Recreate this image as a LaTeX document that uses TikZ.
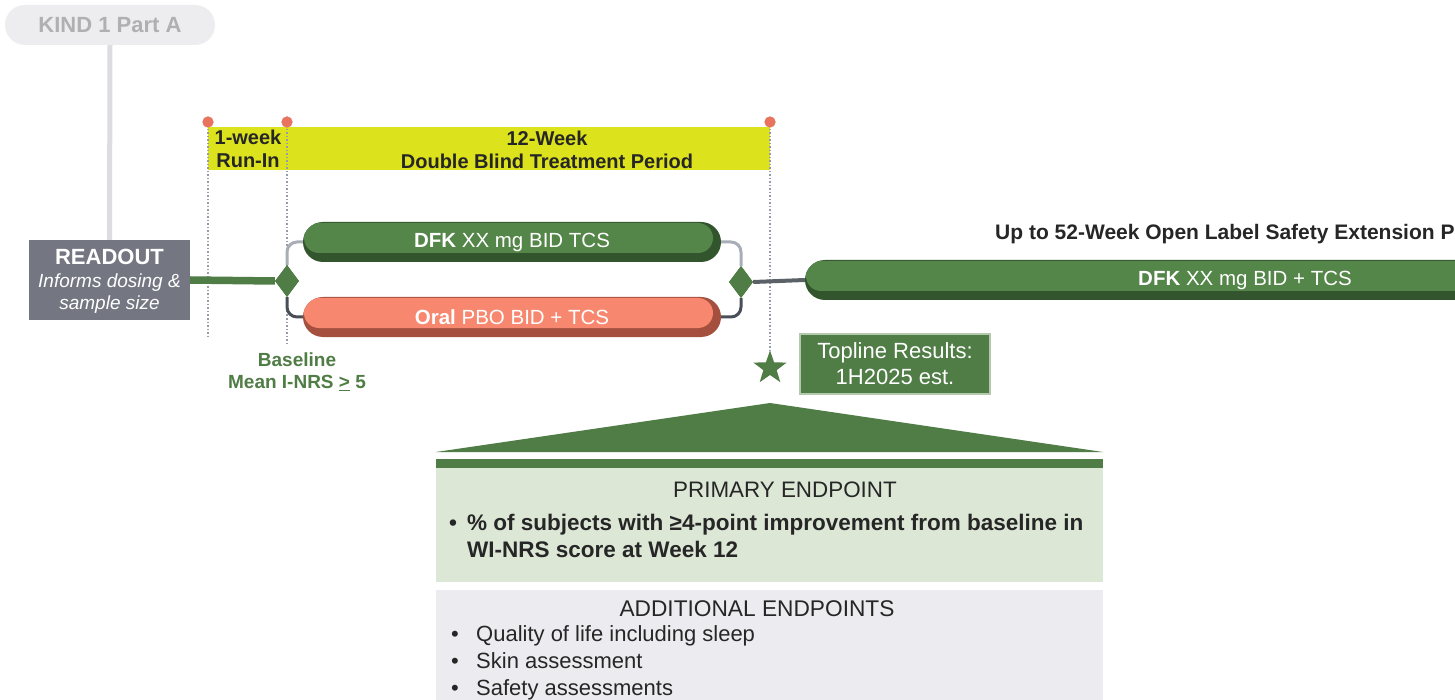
\documentclass[tikz,border=0pt]{standalone}
\usepackage{fontspec}
\setmainfont{Liberation Sans}
\usetikzlibrary{shapes.geometric}
\definecolor{gmain}{HTML}{548549}
\definecolor{gdark}{HTML}{32552E}
\definecolor{gflat}{HTML}{4F7D45}
\definecolor{smain}{HTML}{F7876F}
\definecolor{sdark}{HTML}{A5503E}
\definecolor{lgreen}{HTML}{DCE7D6}
\definecolor{lgray}{HTML}{ECECF0}
\definecolor{rdgray}{HTML}{747782}
\definecolor{yband}{HTML}{DCE21C}
\definecolor{pinc}{HTML}{E8735F}
\definecolor{dotc}{HTML}{959BAA}
\definecolor{kfill}{HTML}{EDEDEF}
\definecolor{ktext}{HTML}{B0B0B3}
\definecolor{kline}{HTML}{DDDDDF}
\definecolor{cupper}{HTML}{A8AEB6}
\definecolor{clower}{HTML}{4A4F57}
\definecolor{txt}{HTML}{262626}
\definecolor{tborder}{HTML}{B4C9AC}
\newcommand{\fsz}[1]{\fontsize{#1}{#1}\selectfont}
\begin{document}
\begin{tikzpicture}[x=1pt,y=-1pt,
  kindpill/.style={rectangle, rounded corners=20pt, fill=kfill, minimum width=210pt, minimum height=40pt, text=ktext, font=\fsz{22}\bfseries, inner sep=0pt},
  readoutbox/.style={rectangle, fill=rdgray, minimum width=161pt, minimum height=80pt, inner sep=0pt},
  pillbase/.style={rectangle, rounded corners=20pt, minimum height=40pt, inner sep=0pt, text=white, font=\fsz{20.5}},
  gpill/.style={pillbase, fill=gdark, path picture={\fill[gmain,rounded corners=15pt] ([xshift=1pt,yshift=-1pt]path picture bounding box.north west) rectangle ([xshift=-8pt,yshift=9pt]path picture bounding box.south east);}},
  spill/.style={pillbase, fill=sdark, path picture={\fill[smain,rounded corners=15pt] ([xshift=1pt,yshift=-1pt]path picture bounding box.north west) rectangle ([xshift=-8pt,yshift=9pt]path picture bounding box.south east);}},
  dia/.style={diamond, fill=gflat, minimum width=24pt, minimum height=32pt, inner sep=0pt},
  conup/.style={draw=cupper, line width=3pt, rounded corners=10pt},
  condown/.style={draw=clower, line width=3pt, rounded corners=10pt},
  pinmark/.style={circle, fill=pinc, minimum size=11pt, inner sep=0pt},
  dotline/.style={draw=dotc, line width=1.5pt, dotted},
  bandtxt/.style={font=\fontsize{20}{23}\selectfont\bfseries, align=center, text=txt, inner sep=0pt},
  starmark/.style={star, star points=5, star point ratio=2.5, fill=gflat, minimum size=35pt, inner sep=0pt},
  topline/.style={rectangle, fill=gflat, draw=tborder, line width=1.5pt, minimum width=190pt, minimum height=60pt, text=white, align=center, font=\fontsize{22}{26}\selectfont},
  endtxt/.style={text=txt, inner sep=0pt}
]
\useasboundingbox (0,0) rectangle (1455,700);
\fill[white] (0,0) rectangle (1455,700);
\clip (0,0) rectangle (1455,700);

% KIND pill and readout
\node[kindpill] (kind) at (110,25) {KIND 1 Part A};
\node[readoutbox] (readout) at (109.5,280) {};
\draw[kline, line width=5pt] (kind.south) -- (readout.north);
\node[text=white, font=\fsz{22}\bfseries, inner sep=0pt] (rdt) at (109.5,257) {READOUT};
\node[text=white, font=\fontsize{19}{22}\selectfont\itshape, align=center, inner sep=0pt] (rds) at (109.5,294) {Informs dosing \&\\sample size};

% yellow band
\fill[yband] (208,127) rectangle (770,170);
\node[bandtxt] (runin) at (248,149) {1-week\\Run-In};
\node[bandtxt] (dbt) at (547,149.5) {12-Week\\Double Blind Treatment Period};

% pins and dotted lines
\node[pinmark] (p1) at (208,122) {};
\node[pinmark] (p2) at (287,122) {};
\node[pinmark] (p3) at (770,122) {};
\coordinate (e1) at (208,338);
\coordinate (e2) at (287,346);
\node[starmark] (star) at (770,368) {};
\draw[dotline] (p1.center) -- (e1);
\draw[dotline] (p2.center) -- (e2);
\draw[dotline] (p3.center) -- (star.north);
\node[pinmark] at (p1) {};
\node[pinmark] at (p2) {};
\node[pinmark] at (p3) {};

% arms
\node[dia] (d1) at (287,281) {};
\node[dia] (d2) at (741,282) {};
\node[gpill, minimum width=418pt] (armA) at (512,242) {\textbf{DFK} XX mg BID TCS};
\node[spill, minimum width=418pt] (armB) at (512,317) {\textbf{Oral} PBO BID + TCS};
\draw[gflat, line width=7.5pt] (readout.east) -- (d1.west);
\draw[conup] (d1.north) |- (armA.west);
\draw[condown] (d1.south) |- (armB.west);
\draw[conup] (armA.east) -| (d2.north);
\draw[condown] (armB.east) -| (d2.south);
\node[dia] at (d1) {};
\node[dia] at (d2) {};

% extension
\node[gpill, minimum width=880pt] (ext) at (1245,280) {\textbf{DFK} XX mg BID + TCS};
\draw[draw=clower!90!white, line width=4pt] (d2.east) -- (ext.west);
\node[anchor=west, font=\fsz{21}\bfseries, text=txt, inner sep=0pt] (exttitle) at (995,234) {Up to 52-Week Open Label Safety Extension P};

% baseline
\node[font=\fontsize{19}{22}\selectfont\bfseries, text=gflat, align=center, inner sep=0pt] (basel) at (297,372) {Baseline\\Mean I-NRS \underline{>} 5};

% topline
\node[topline] (top) at (895,364) {Topline Results:\\1H2025 est.};

% endpoints
\fill[gflat] (770,403) -- (1103,452) -- (436,452) -- cycle;
\fill[gflat] (436,459) rectangle (1103,468);
\fill[lgreen] (436,468) rectangle (1103,582);
\node[endtxt, font=\fsz{22.4}] (primt) at (785,490) {PRIMARY ENDPOINT};
\node[endtxt, anchor=west, align=left, font=\fontsize{22.5}{27}\selectfont\bfseries] (primb) at (449,536) {\makebox[18pt][l]{•}\% of subjects with ≥4-point improvement from baseline in\\\hspace*{18pt}WI-NRS score at Week 12};
\fill[lgray] (436,590) rectangle (1103,720);
\node[endtxt, font=\fsz{22.7}] (addt) at (757,609) {ADDITIONAL ENDPOINTS};
\node[endtxt, font=\fsz{22}, anchor=base] (b1) at (455,641) {•};
\node[endtxt, font=\fsz{22}, anchor=base] (b2) at (455,668) {•};
\node[endtxt, font=\fsz{22}, anchor=base] (b3) at (455,695) {•};
\node[endtxt, font=\fsz{22}, anchor=base west] (a1) at (476,641) {Quality of life including sleep};
\node[endtxt, font=\fsz{22}, anchor=base west] (a2) at (476,668) {Skin assessment};
\node[endtxt, font=\fsz{22}, anchor=base west] (a3) at (476,695) {Safety assessments};
\end{tikzpicture}
\end{document}
